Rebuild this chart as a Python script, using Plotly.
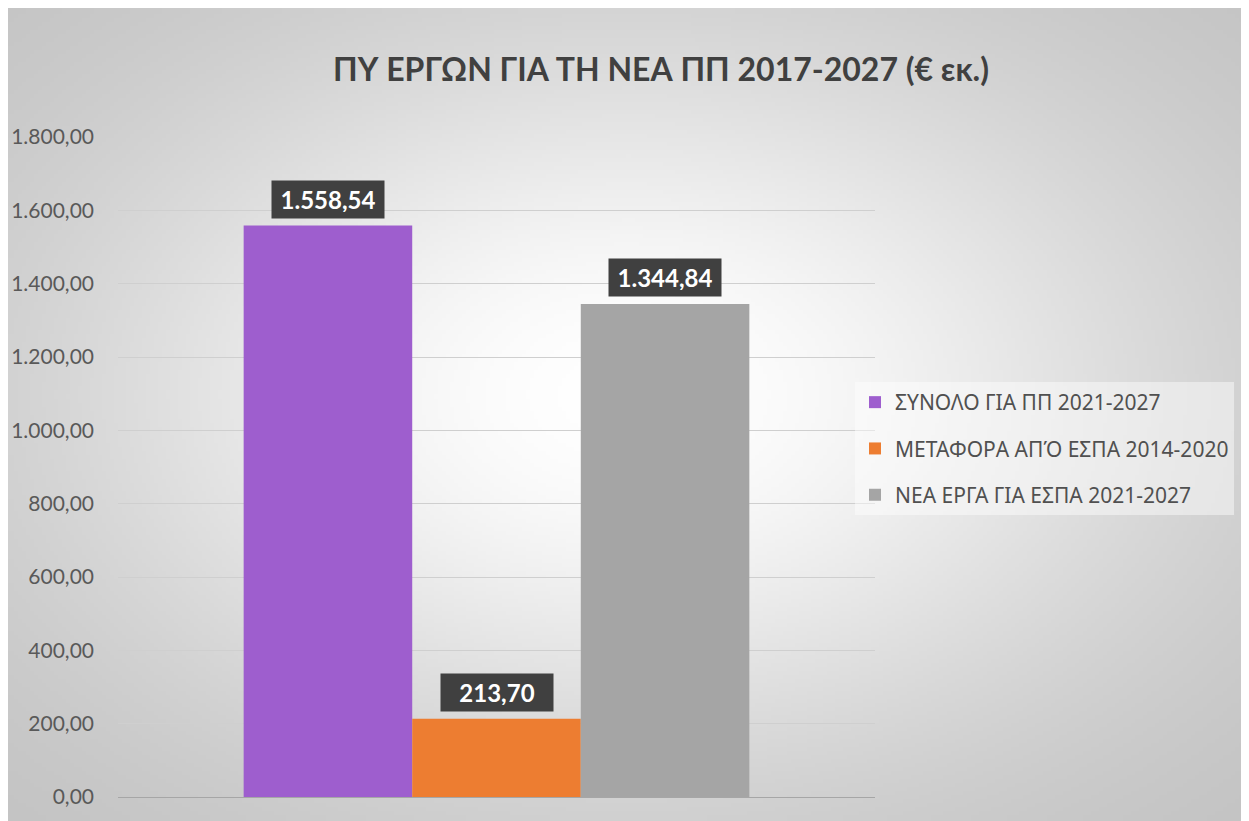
import base64, struct, zlib
import numpy as np
import plotly.graph_objects as go

# ---- data ----
series_names = ["ΣΥΝΟΛΟ ΓΙΑ ΠΠ 2021-2027", "ΜΕΤΑΦΟΡΑ ΑΠΌ ΕΣΠΑ 2014-2020", "ΝΕΑ ΕΡΓΑ ΓΙΑ ΕΣΠΑ 2021-2027"]
series_values = [1558.54, 213.70, 1344.84]
value_labels = ["1.558,54", "213,70", "1.344,84"]
series_colors = ["#9E5ECE", "#ED7D31", "#A5A5A5"]
title_text = "ΠΥ ΕΡΓΩΝ ΓΙΑ ΤΗ ΝΕΑ ΠΠ 2017-2027 (€ εκ.)"

# page is offset by the 8px body margin
FW, FH = 1241, 813
L, R, T, B = 110, 374, 129, 24
PW, PH = FW - L - R, FH - T - B
FONT = "Lato, Open Sans, sans-serif"
LEG_FONT = "Noto Sans, Open Sans, sans-serif"


def gradient_png(w, h, cxf, cyf):
    ys, xs = np.mgrid[0:h, 0:w]
    cx, cy = w * cxf, h * cyf
    d2 = ((xs - cx) / (w / 2)) ** 2 + ((ys - cy) / (h / 2)) ** 2
    v = (255 - 64 * (1 - np.exp(-1.2 * d2))).astype(np.uint8)
    raw = b"".join(b"\x00" + v[r].tobytes() for r in range(h))

    def chunk(t, data):
        c = struct.pack(">I", len(data)) + t + data
        return c + struct.pack(">I", zlib.crc32(t + data) & 0xFFFFFFFF)

    png = b"\x89PNG\r\n\x1a\n" + chunk(b"IHDR", struct.pack(">IIBBBBB", w, h, 8, 0, 0, 0, 0))
    png += chunk(b"IDAT", zlib.compress(raw, 9)) + chunk(b"IEND", b"")
    return "data:image/png;base64," + base64.b64encode(png).decode()


fig = go.Figure()
bargap = 0.332
bw = (1 - bargap) / 3
for i, (n, v, c) in enumerate(zip(series_names, series_values, series_colors)):
    fig.add_trace(go.Bar(x=[0], y=[v], name=n, marker=dict(color=c, line=dict(width=0)),
                         legendgroup=n))
    fig.add_annotation(x=(i - 1) * bw, y=v, text="<b>" + value_labels[i] + "</b>",
                       showarrow=False, yanchor="bottom", yshift=7,
                       width=100, height=25,
                       font=dict(family=FONT, size=24, color="white"),
                       bgcolor="#404040", borderpad=6)

fig.add_layout_image(dict(source=gradient_png(310, 203, 617 / FW, 385 / FH),
                          xref="paper", yref="paper",
                          x=-L / PW, y=(PH + T) / PH,
                          sizex=FW / PW, sizey=FH / PH,
                          sizing="stretch", layer="below", xanchor="left", yanchor="top"))

fig.update_layout(
    width=FW, height=FH,
    margin=dict(l=L, r=R, t=T, b=B, autoexpand=False),
    paper_bgcolor="white", plot_bgcolor="rgba(0,0,0,0)",
    barmode="group", bargap=bargap,
    separators=",.",
    title=dict(text="<b>" + title_text + "</b>", x=653 / FW, xanchor="center",
               y=1 - 62 / FH, yanchor="middle",
               font=dict(family=FONT, size=32, color="#404040")),
    xaxis=dict(range=[-0.5, 0.5], showticklabels=False, showgrid=False, zeroline=False,
               showline=False, fixedrange=True),
    yaxis=dict(range=[0, 1800], dtick=200, tickformat=",.2f", showgrid=True,
               gridcolor="#CFCFCF", gridwidth=1, zeroline=True, zerolinecolor="#A6A6A6",
               zerolinewidth=1, showline=False, ticklabelstandoff=23,
               tickfont=dict(family=FONT, size=21, color="#595959")),
    legend=dict(x=(847 - L) / PW, y=(PH + T - 374) / PH, xanchor="left", yanchor="top",
                bgcolor="rgba(255,255,255,0.45)", borderwidth=0,
                font=dict(family=LEG_FONT, size=21, color="#505050"),
                tracegroupgap=16, traceorder="grouped", itemwidth=30),
    showlegend=True,
)

fig.write_html("out.html")
